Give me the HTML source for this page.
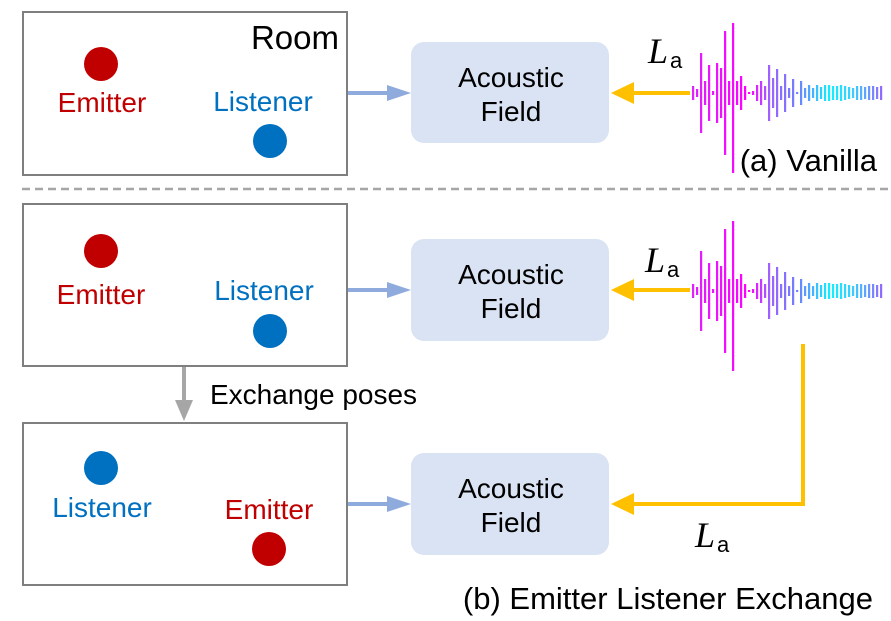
<!DOCTYPE html>
<html><head><meta charset="utf-8"><style>
html,body{margin:0;padding:0;background:#fff;}
svg{display:block;}
text{font-family:"Liberation Sans",Arial,sans-serif;}
.m{font-family:"Liberation Serif",serif;font-style:italic;}
</style></head><body>
<svg id="s" width="891" height="621" viewBox="0 0 891 621" xmlns="http://www.w3.org/2000/svg">
<defs>
<linearGradient id="g" gradientUnits="userSpaceOnUse" x1="692" y1="0" x2="884" y2="0">
<stop offset="0" stop-color="#e020ff"/><stop offset="0.3" stop-color="#ff00ff"/>
<stop offset="0.4" stop-color="#a060ff"/><stop offset="0.55" stop-color="#6f7fff"/>
<stop offset="0.72" stop-color="#10f0ff"/><stop offset="0.85" stop-color="#40c8ff"/>
<stop offset="1" stop-color="#9a60ff"/></linearGradient>
</defs>
<rect x="23" y="12" width="324" height="163" fill="none" stroke="#7f7f7f" stroke-width="2"/>
<rect x="23" y="204" width="324" height="162" fill="none" stroke="#7f7f7f" stroke-width="2"/>
<rect x="23" y="423" width="324" height="162" fill="none" stroke="#7f7f7f" stroke-width="2"/>
<text x="339" y="49" font-size="33" text-anchor="end" fill="#000">Room</text>
<circle cx="101" cy="64" r="17" fill="#c00000"/>
<text x="102" y="112" font-size="28" text-anchor="middle" fill="#c00000">Emitter</text>
<text x="263" y="111" font-size="28" text-anchor="middle" fill="#0070c0">Listener</text>
<circle cx="270" cy="141" r="17" fill="#0070c0"/>

<circle cx="101" cy="251" r="17" fill="#c00000"/>
<text x="101" y="304" font-size="28" text-anchor="middle" fill="#c00000">Emitter</text>
<text x="264" y="300" font-size="28" text-anchor="middle" fill="#0070c0">Listener</text>
<circle cx="270" cy="331" r="17" fill="#0070c0"/>

<circle cx="101" cy="468" r="17" fill="#0070c0"/>
<text x="102" y="517" font-size="28" text-anchor="middle" fill="#0070c0">Listener</text>
<text x="269" y="519" font-size="28" text-anchor="middle" fill="#c00000">Emitter</text>
<circle cx="269" cy="549" r="17" fill="#c00000"/>

<line x1="22" y1="189" x2="891" y2="189" stroke="#a6a6a6" stroke-width="2.5" stroke-dasharray="8,5"/>

<g fill="#dae3f3">
<rect x="411" y="42" width="198" height="101" rx="13"/>
<rect x="411" y="239" width="198" height="102" rx="13"/>
<rect x="411" y="453" width="198" height="102" rx="13"/>
</g>
<g font-size="28" text-anchor="middle" fill="#000">
<text x="511" y="87">Acoustic</text><text x="511" y="121">Field</text>
<text x="511" y="284">Acoustic</text><text x="511" y="318">Field</text>
<text x="511" y="498">Acoustic</text><text x="511" y="532">Field</text>
</g>
<g stroke="#8faadc" stroke-width="4"><line x1="348" y1="93" x2="390" y2="93"/><line x1="348" y1="290" x2="390" y2="290"/><line x1="348" y1="504" x2="390" y2="504"/></g>
<g fill="#8faadc"><polygon points="387,85 411,93 387,101"/><polygon points="387,282 411,290 387,298"/><polygon points="387,496 411,504 387,512"/></g>
<g stroke="#ffc000" stroke-width="4" fill="none">
<line x1="690" y1="93" x2="630" y2="93"/><line x1="690" y1="290" x2="630" y2="290"/>
<polyline points="803,344 803,504 630,504"/>
</g>
<g fill="#ffc000"><polygon points="611,93 634,82 634,104"/><polygon points="611,290 634,279 634,301"/><polygon points="611,504 634,493 634,515"/></g>
<text class="m" x="648" y="63" font-size="36">L</text><text x="670" y="68" font-size="22" font-family="Liberation Serif">a</text>
<text class="m" x="645" y="272" font-size="36">L</text><text x="667" y="277" font-size="22" font-family="Liberation Serif">a</text>
<text class="m" x="695" y="547" font-size="36">L</text><text x="717" y="552" font-size="22" font-family="Liberation Serif">a</text>
<line x1="184" y1="367" x2="184" y2="402" stroke="#a6a6a6" stroke-width="4"/>
<polygon points="175,400 193,400 184,421" fill="#a6a6a6"/>
<text x="210" y="404" font-size="28" fill="#000">Exchange poses</text>
<text x="877" y="171" font-size="31" text-anchor="end" fill="#000">(a) Vanilla</text>
<text x="873" y="609" font-size="31" text-anchor="end" fill="#000">(b) Emitter Listener Exchange</text>
<g id="w1" fill="url(#g)"></g>
<g id="w2" fill="url(#g)"></g>
</svg>
<script>
var h=[7,4,40,12,28,2,30,25,62,12,70,12,17,7,1,2,8,12,7,28,15,24,7,19,5,14,1,12,5,8,5,8,6,8,8,7,7,8,7,6,5,7,7,6,7,7,6,7];
var dn=[];for(var i=0;i<h.length;i++)dn.push(0);dn[10]=10;
function draw(id,cy){var g=document.getElementById(id),s='';
for(var i=0;i<h.length;i++){var x=692+i*4,t=h[i],b=h[i]+dn[i];
s+='<rect x="'+x+'" y="'+(cy-t)+'" width="2.2" height="'+(t+b)+'"/>';}
g.innerHTML=s;}
draw('w1',93);draw('w2',291);
</script>
</body></html>
